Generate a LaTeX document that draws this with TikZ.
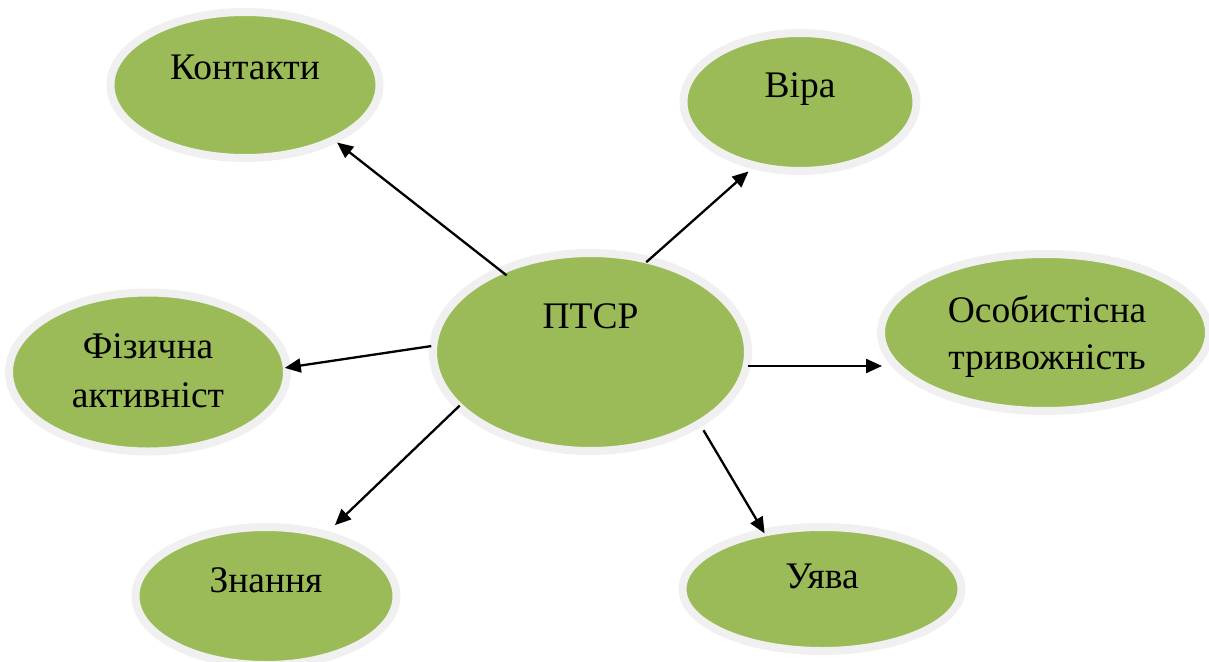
\documentclass[tikz,border=0pt]{standalone}
\usepackage{fontspec}
\setmainfont{Liberation Serif}
\usetikzlibrary{arrows.meta,shapes.geometric}
\definecolor{ellgreen}{HTML}{9BBB59}
\definecolor{halo}{HTML}{F0F0F0}
\tikzset{
  ell/.style={ellipse, draw=halo, line width=8pt, fill=ellgreen, inner sep=0pt},
  lbl/.style={anchor=base, inner sep=0pt, font=\fontsize{37.5}{48}\selectfont, text=black},
  conn/.style={line width=2.3pt, -{Triangle[length=16pt,width=14pt]}}
}
\begin{document}
\begin{tikzpicture}[x=1pt,y=-1pt]
\useasboundingbox (0,0) rectangle (1209,661);
% ellipses
\node[ell, minimum width=269pt, minimum height=146pt] (k) at (245,85) {};
\node[ell, minimum width=233pt, minimum height=138pt] (v) at (800,102) {};
\node[ell, minimum width=315pt, minimum height=198pt] (p) at (590.5,352) {};
\node[ell, minimum width=278pt, minimum height=159pt] (f) at (148,372) {};
\node[ell, minimum width=328pt, minimum height=157pt] (o) at (1045,332.5) {};
\node[ell, minimum width=261pt, minimum height=138pt] (z) at (266,596) {};
\node[ell, minimum width=279pt, minimum height=124pt] (u) at (822,589) {};
% labels
\node[lbl] (kt) at (245,79) {Контакти};
\node[lbl] (vt) at (800,97) {Віра};
\node[lbl] (pt) at (590.5,328) {ПТСР};
\node[lbl] (ft1) at (148,358) {Фізична};
\node[lbl] (ft2) at (148,407) {активніст};
\node[lbl] (ot1) at (1047,322) {Особистісна};
\node[lbl] (ot2) at (1047,369) {тривожність};
\node[lbl] (zt) at (266,592) {Знання};
\node[lbl] (ut) at (822,588) {Уява};
% connectors
\draw[conn, shorten <=-12pt] (p.138.4) -- (k.-32.8);
\draw[conn, shorten <=-8pt, shorten >=4pt] (p.57.1) -- (v.-126.6);
\draw[conn, shorten <=-2pt, shorten >=-6pt] (p.178.2) -- (f.2.9);
\draw[conn, shorten <=-3pt, shorten >=-5pt] (p.-5.4) -- (p.-5.4 -| o.west);
\draw[conn, shorten <=-5pt, shorten >=9pt] (p.-157.2) -- (z.46.2);
\draw[conn, shorten <=4pt, shorten >=-5pt] (p.-34.8) -- (u.135);
\end{tikzpicture}
\end{document}
